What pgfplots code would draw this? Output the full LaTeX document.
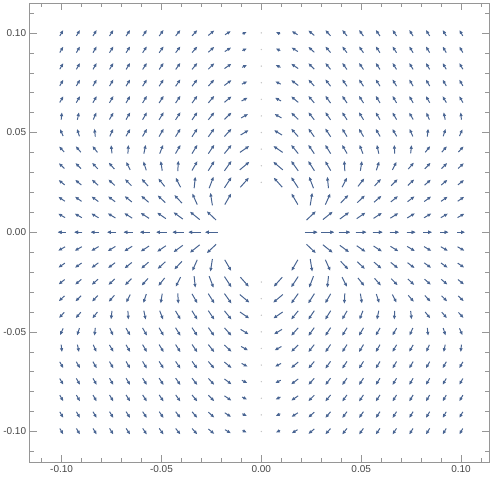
\documentclass[border=0pt]{standalone}
\usepackage{pgfplots}
\pgfplotsset{compat=1.18}
\usepackage{pgfplotstable}
\usetikzlibrary{arrows.meta}
\usepackage{fontspec}
\setmainfont{Liberation Sans}

\definecolor{vec}{RGB}{72,100,146}
\definecolor{frame}{RGB}{150,150,150}
\definecolor{lbl}{RGB}{70,70,70}

% first quadrant only: x y, arrow angle (deg), arrow length (px)
% the other three quadrants are its mirror images
\pgfplotstableread{
x y ang len
0.00833 0.025 131.7 13
0.00833 0.03333 139.9 12.8
0.00833 0.04167 145.4 11.5
0.00833 0.05 148.7 9.5
0.00833 0.05833 150.5 8.1
0.00833 0.06667 151.8 7.0
0.00833 0.075 153.0 6.3
0.00833 0.08333 153.9 5.6
0.00833 0.09167 154.7 5.2
0.00833 0.1 155.4 4.8
0.01667 0.01667 120 13
0.01667 0.025 123.1 13
0.01667 0.03333 125.3 12.4
0.01667 0.04167 129.1 11.4
0.01667 0.05 131.7 10.7
0.01667 0.05833 136.1 10.0
0.01667 0.06667 139.9 9.5
0.01667 0.075 142.9 9.1
0.01667 0.08333 145.4 8.6
0.01667 0.09167 147.4 7.7
0.01667 0.1 148.7 7.0
0.025 0 0 13
0.025 0.00833 43.4 13
0.025 0.01667 81 13
0.025 0.025 111 12.6
0.025 0.03333 122.2 11.8
0.025 0.04167 123.9 11.0
0.025 0.05 125.3 10.4
0.025 0.05833 128 9.8
0.025 0.06667 130 9.4
0.025 0.075 131.7 8.9
0.025 0.08333 134.6 8.6
0.025 0.09167 137.5 8.25
0.025 0.1 139.9 7.95
0.03333 0 0 13
0.03333 0.00833 39 12.8
0.03333 0.01667 66 12.4
0.03333 0.025 96 11.8
0.03333 0.03333 120 11.1
0.03333 0.04167 121.7 10.6
0.03333 0.05 123.1 10.1
0.03333 0.05833 124.2 9.6
0.03333 0.06667 125.3 9.2
0.03333 0.075 127.4 8.8
0.03333 0.08333 129.1 8.5
0.03333 0.09167 130.5 8.15
0.03333 0.1 131.7 7.9
0.04167 0 0 11.8
0.04167 0.00833 36.3 11.7
0.04167 0.01667 46.8 11.4
0.04167 0.025 63 11.0
0.04167 0.03333 93 10.6
0.04167 0.04167 120 10.2
0.04167 0.05 121.4 9.7
0.04167 0.05833 122.6 9.3
0.04167 0.06667 123.6 8.95
0.04167 0.075 124.4 8.65
0.04167 0.08333 125.3 8.3
0.04167 0.09167 127 8.05
0.04167 0.1 128.4 7.8
0.05 0 0 10.9
0.05 0.00833 34.5 10.8
0.05 0.01667 43.4 10.7
0.05 0.025 51.6 10.4
0.05 0.03333 81 10.1
0.05 0.04167 111 9.7
0.05 0.05 120 9.4
0.05 0.05833 121.2 9.1
0.05 0.06667 122.2 8.75
0.05 0.075 123.1 8.45
0.05 0.08333 123.9 8.15
0.05 0.09167 124.6 7.95
0.05 0.1 125.3 7.7
0.05833 0 0 10.2
0.05833 0.00833 33.1 10.2
0.05833 0.01667 41 10.0
0.05833 0.025 48.2 9.8
0.05833 0.03333 72 9.6
0.05833 0.04167 102 9.3
0.05833 0.05 120 9.1
0.05833 0.05833 120 8.8
0.05833 0.06667 121 8.55
0.05833 0.075 121.9 8.25
0.05833 0.08333 122.7 8.0
0.05833 0.09167 123.4 7.8
0.05833 0.1 124.1 7.6
0.06667 0 0 9.6
0.06667 0.00833 32.1 9.6
0.06667 0.01667 39 9.5
0.06667 0.025 45.6 9.4
0.06667 0.03333 63 9.2
0.06667 0.04167 93 8.95
0.06667 0.05 120 8.75
0.06667 0.05833 120 8.55
0.06667 0.06667 120 8.3
0.06667 0.075 120.9 8.1
0.06667 0.08333 121.7 7.85
0.06667 0.09167 122.4 7.7
0.06667 0.1 123.1 7.5
0.075 0 0 9.2
0.075 0.00833 31.3 9.2
0.075 0.01667 37.5 9.1
0.075 0.025 43.4 8.9
0.075 0.03333 49 8.8
0.075 0.04167 84 8.65
0.075 0.05 114 8.45
0.075 0.05833 120 8.25
0.075 0.06667 120 8.1
0.075 0.075 120 7.9
0.075 0.08333 120.8 7.7
0.075 0.09167 121.6 7.55
0.075 0.1 122.2 7.35
0.08333 0 0 8.75
0.08333 0.00833 30.7 8.7
0.08333 0.01667 36.3 8.7
0.08333 0.025 41.7 8.6
0.08333 0.03333 46.8 8.5
0.08333 0.04167 51.6 8.3
0.08333 0.05 84 8.15
0.08333 0.05833 114 8.0
0.08333 0.06667 120 7.85
0.08333 0.075 120 7.7
0.08333 0.08333 120 7.55
0.08333 0.09167 120.8 7.4
0.08333 0.1 121.4 7.25
0.09167 0 0 8.4
0.09167 0.00833 30.2 8.4
0.09167 0.01667 35.3 8.3
0.09167 0.025 40.3 8.25
0.09167 0.03333 45 8.15
0.09167 0.04167 49.4 8.05
0.09167 0.05 72 7.95
0.09167 0.05833 102 7.8
0.09167 0.06667 120 7.7
0.09167 0.075 120 7.55
0.09167 0.08333 120 7.4
0.09167 0.09167 120 7.25
0.09167 0.1 120.7 7.1
0.1 0 0 8.1
0.1 0.00833 29.8 8.1
0.1 0.01667 34.5 8.05
0.1 0.025 39 7.95
0.1 0.03333 43.4 7.9
0.1 0.04167 47.6 7.8
0.1 0.05 66 7.7
0.1 0.05833 96 7.6
0.1 0.06667 120 7.5
0.1 0.075 120 7.35
0.1 0.08333 120 7.25
0.1 0.09167 120 7.1
0.1 0.1 120 6.95
}\field

\pgfplotsset{
  vecs/.style={vec, line width=1.0pt, -{Latex[length=4pt,width=3.6pt]}},
}

\begin{document}
\begin{tikzpicture}
\begin{axis}[
    width=460pt, height=460pt, scale only axis,
    xmin=-0.116, xmax=0.114,
    ymin=-0.1155, ymax=0.115,
    axis line style={frame, line width=0.6pt},
    xtick={-0.1,-0.05,0,0.05,0.1},
    ytick={-0.1,-0.05,0,0.05,0.1},
    minor xtick={-0.11,-0.09,-0.08,-0.07,-0.06,-0.04,-0.03,-0.02,-0.01,0.01,0.02,0.03,0.04,0.06,0.07,0.08,0.09,0.11},
    minor ytick={-0.11,-0.09,-0.08,-0.07,-0.06,-0.04,-0.03,-0.02,-0.01,0.01,0.02,0.03,0.04,0.06,0.07,0.08,0.09,0.11},
    tick align=inside,
    major tick length=7pt, minor tick length=4pt,
    tick style={frame, line width=0.5pt},
    tick label style={font=\fontsize{10}{12}\selectfont, text=lbl},
    scaled ticks=false,
    /pgf/number format/.cd, fixed, fixed zerofill, precision=2, assume math mode=true,
]
% x>0, y>0
\addplot[vecs, quiver={u={0.0005*\thisrow{len}*cos(\thisrow{ang})}, v={0.0005*\thisrow{len}*sin(\thisrow{ang})}}]
  table[x expr={\thisrow{x}-0.00025*\thisrow{len}*cos(\thisrow{ang})},
        y expr={\thisrow{y}-0.00025*\thisrow{len}*sin(\thisrow{ang})}] {\field};
% x<0, y>0
\addplot[vecs, quiver={u={-0.0005*\thisrow{len}*cos(\thisrow{ang})}, v={0.0005*\thisrow{len}*sin(\thisrow{ang})}}]
  table[x expr={-\thisrow{x}+0.00025*\thisrow{len}*cos(\thisrow{ang})},
        y expr={\thisrow{y}-0.00025*\thisrow{len}*sin(\thisrow{ang})}] {\field};
% x<0, y<0
\addplot[vecs, quiver={u={-0.0005*\thisrow{len}*cos(\thisrow{ang})}, v={-0.0005*\thisrow{len}*sin(\thisrow{ang})}}]
  table[x expr={-\thisrow{x}+0.00025*\thisrow{len}*cos(\thisrow{ang})},
        y expr={-\thisrow{y}+0.00025*\thisrow{len}*sin(\thisrow{ang})}] {\field};
% x>0, y<0
\addplot[vecs, quiver={u={0.0005*\thisrow{len}*cos(\thisrow{ang})}, v={-0.0005*\thisrow{len}*sin(\thisrow{ang})}}]
  table[x expr={\thisrow{x}-0.00025*\thisrow{len}*cos(\thisrow{ang})},
        y expr={-\thisrow{y}+0.00025*\thisrow{len}*sin(\thisrow{ang})}] {\field};
% zero vectors on x = 0
\addplot[only marks, mark=*, mark size=0.45pt, color=gray!45] coordinates {
  (0,0.025) (0,0.03333) (0,0.04167) (0,0.05) (0,0.05833) (0,0.06667) (0,0.075) (0,0.08333) (0,0.09167) (0,0.1)
  (0,-0.025) (0,-0.03333) (0,-0.04167) (0,-0.05) (0,-0.05833) (0,-0.06667) (0,-0.075) (0,-0.08333) (0,-0.09167) (0,-0.1)
};
\end{axis}
\path (current axis.north east) ++(4pt,3pt);
\end{tikzpicture}
\end{document}
